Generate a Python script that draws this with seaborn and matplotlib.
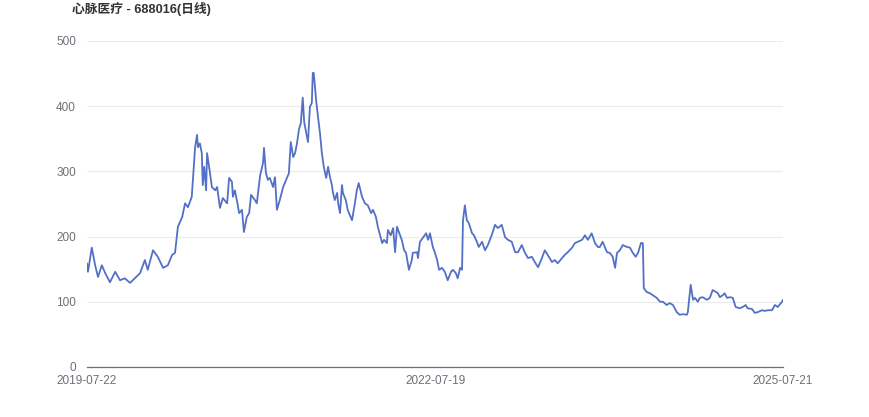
import matplotlib
matplotlib.use("Agg")
import matplotlib.pyplot as plt
import seaborn as sns
import pandas as pd

# trading-day index (0 = 2019-07-22, 1455 = 2025-07-21) and close price
day = [0, 2, 10, 17, 23, 31, 38, 48, 59, 69, 79, 90, 100, 111, 121, 127, 138, 148, 159, 169,
       178, 184, 190, 199, 205, 211, 219, 226, 230, 232, 236, 240, 242, 245, 249, 251, 257, 261,
       268, 272, 278, 284, 293, 297, 303, 305, 309, 314, 318, 324, 328, 334, 339, 343, 351, 355,
       362, 368, 370, 374, 378, 382, 389, 393, 397, 403, 410, 418, 422, 426, 431, 435, 439, 443,
       447, 451, 454, 458, 462, 466, 470, 472, 474, 479, 483, 487, 491, 495, 500, 504, 508, 512,
       514, 518, 523, 525, 529, 533, 535, 541, 545, 554, 560, 564, 568, 575, 581, 587, 594, 598,
       604, 608, 617, 621, 627, 629, 635, 640, 644, 648, 652, 658, 663, 667, 673, 679, 681, 690,
       692, 696, 702, 709, 713, 717, 723, 727, 732, 736, 742, 748, 754, 761, 765, 771, 775, 780,
       784, 786, 790, 794, 798, 805, 809, 815, 819, 826, 832, 838, 846, 853, 859, 867, 874, 880,
       888, 895, 901, 909, 915, 922, 930, 936, 943, 951, 957, 963, 972, 978, 984, 993, 999, 1005,
       1014, 1020, 1026, 1035, 1041, 1047, 1055, 1062, 1068, 1072, 1078, 1087, 1093, 1099, 1104,
       1108, 1114, 1120, 1129, 1135, 1141, 1147, 1152, 1158, 1162, 1164, 1170, 1177, 1183, 1191,
       1198, 1204, 1212, 1218, 1225, 1233, 1239, 1246, 1254, 1256, 1262, 1267, 1271, 1277, 1281,
       1287, 1296, 1302, 1308, 1315, 1319, 1323, 1329, 1333, 1338, 1344, 1350, 1356, 1365, 1371,
       1377, 1381, 1390, 1396, 1402, 1411, 1417, 1423, 1432, 1438, 1444, 1453, 1455]

close = [159, 146, 183, 156, 138, 156, 144, 130, 146, 133, 136, 129, 136, 144, 164, 149, 179, 169, 152, 156,
         172, 175, 215, 230, 251, 245, 261, 337, 356, 337, 343, 328, 279, 307, 271, 328, 298, 276,
         271, 276, 244, 259, 251, 290, 284, 261, 271, 253, 236, 241, 207, 230, 236, 264, 256, 251,
         294, 313, 336, 298, 287, 290, 276, 291, 241, 256, 276, 290, 297, 345, 322, 328, 343, 364,
         374, 413, 376, 360, 345, 399, 405, 451, 451, 409, 383, 359, 328, 307, 290, 307, 291, 279,
         268, 256, 267, 251, 236, 279, 267, 256, 241, 225, 251, 271, 282, 261, 251, 248, 236, 241,
         230, 215, 190, 195, 190, 210, 202, 213, 176, 215, 207, 195, 179, 175, 149, 164, 175, 176,
         167, 192, 198, 205, 195, 205, 184, 176, 164, 149, 152, 146, 133, 146, 149, 144, 136, 152,
         149, 225, 248, 225, 221, 205, 202, 192, 184, 192, 179, 187, 202, 218, 213, 218, 199, 195,
         192, 176, 176, 187, 176, 167, 169, 161, 153, 167, 179, 172, 161, 164, 159, 167, 172, 176,
         183, 190, 192, 195, 202, 195, 205, 190, 184, 184, 192, 176, 175, 169, 152,
         175, 179, 187, 184, 183, 175, 169, 175, 190, 190, 121, 115, 113, 110, 106,
         100, 100, 95, 98, 95, 84, 80, 81, 80, 84, 126, 103, 106, 100, 106,
         107, 103, 106, 118, 115, 113, 107, 110, 113, 106, 107, 106, 92, 90, 92,
         95, 90, 89, 83, 84, 87, 86, 87, 87, 95, 92, 100, 103]

x_labels = ["2019-07-22", "2022-07-19", "2025-07-21"]
x_label_pos = [0, 728, 1455]
y_ticks = [0, 100, 200, 300, 400, 500]
title = "心脉医疗 - 688016(日线)"

df = pd.DataFrame({"day": day, "close": close})

sns.set_theme(style="white")
plt.rcParams["font.family"] = ["Liberation Sans", "Noto Sans CJK SC", "DejaVu Sans"]

fig = plt.figure(figsize=(8.7, 4.17), dpi=100)
ax = fig.add_axes([0.1, 0.12, 0.8, 0.7817])

sns.lineplot(data=df, x="day", y="close", ax=ax, color="#5470c6", linewidth=1.3)

ax.set_xlim(0, 1455)
ax.set_ylim(0, 500)
ax.set_yticks(y_ticks)
ax.set_yticklabels([str(v) for v in y_ticks])
ax.set_xticks(x_label_pos)
ax.set_xticklabels(x_labels)
ax.tick_params(axis="both", length=0, labelsize=8.5, colors="#6e7079")
ax.tick_params(axis="y", pad=8)
ax.tick_params(axis="x", pad=6)
ax.set_xlabel("")
ax.set_ylabel("")

ax.grid(axis="y", color="#ebebeb", linewidth=0.8)
ax.grid(axis="x", visible=False)
for s in ["top", "right", "left"]:
    ax.spines[s].set_visible(False)
ax.spines["bottom"].set_color("#6e7079")
ax.spines["bottom"].set_linewidth(0.9)

fig.text(72 / 870, 1 - 9 / 417, title, fontsize=9.2, fontweight="bold", color="#333333",
         ha="left", va="center")

fig.savefig("out.png", dpi=100)
